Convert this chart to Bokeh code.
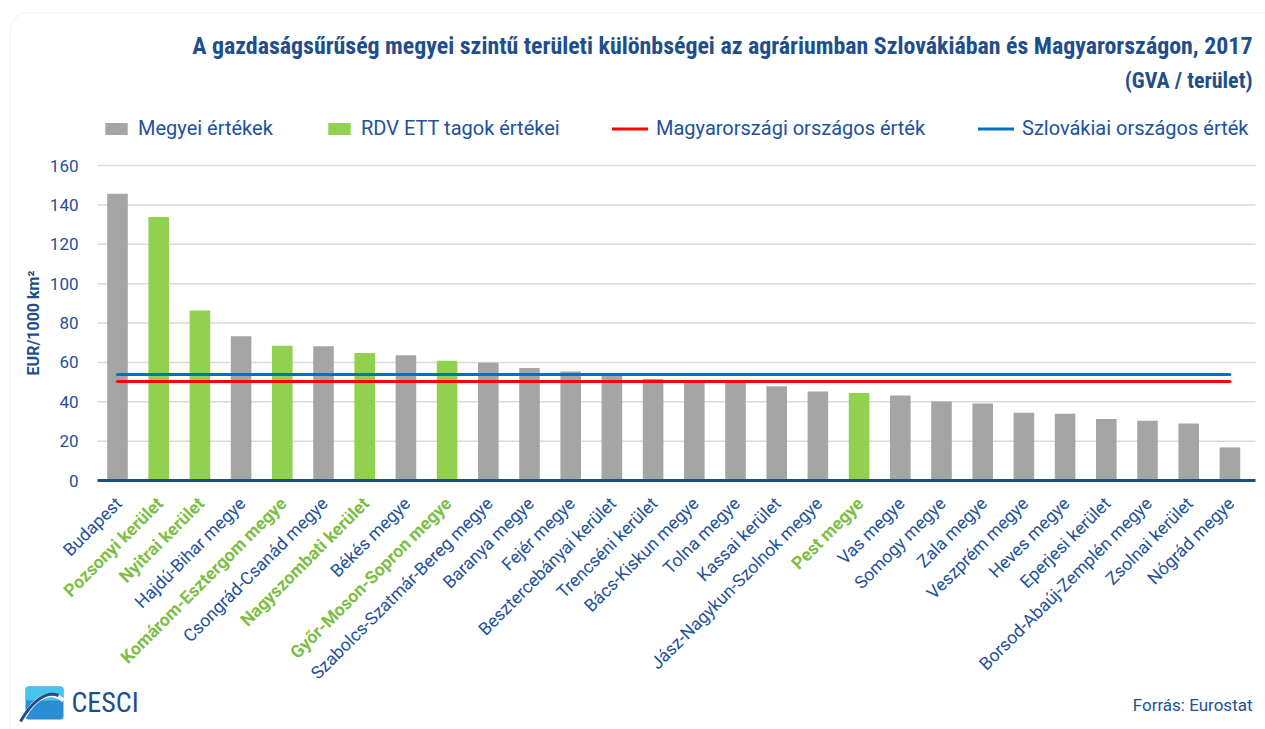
from bokeh.plotting import figure
from bokeh.models import (ColumnDataSource, Range1d, Label, LabelSet, Legend,
                          LegendItem, BoxAnnotation)
from bokeh.core.properties import value
from bokeh.embed import file_html
from bokeh.resources import INLINE
import math

# ---------------- data ----------------
categories = ["Budapest", "Pozsonyi kerület", "Nyitrai kerület", "Hajdú-Bihar megye",
              "Komárom-Esztergom megye", "Csongrád-Csanád megye", "Nagyszombati kerület",
              "Békés megye", "Győr-Moson-Sopron megye", "Szabolcs-Szatmár-Bereg megye",
              "Baranya megye", "Fejér megye", "Besztercebányai kerület", "Trencséni kerület",
              "Bács-Kiskun megye", "Tolna megye", "Kassai kerület", "Jász-Nagykun-Szolnok megye",
              "Pest megye", "Vas megye", "Somogy megye", "Zala megye", "Veszprém megye",
              "Heves megye", "Eperjesi kerület", "Borsod-Abaúj-Zemplén megye",
              "Zsolnai kerület", "Nógrád megye"]
values = [145.6, 133.8, 86.3, 73.3, 68.4, 68.2, 64.8, 63.6, 60.8, 59.8,
          57.2, 55.4, 53.5, 51.6, 50.2, 49.8, 47.9, 45.2, 44.4, 43.2,
          40.1, 39.1, 34.4, 33.9, 31.3, 30.3, 29.0, 16.8]
rdv_member = [False, True, True, False, True, False, True, False, True, False,
              False, False, False, False, False, False, False, False, True, False,
              False, False, False, False, False, False, False, False]
hu_national = 50.3
sk_national = 53.8
y_ticks = [0, 20, 40, 60, 80, 100, 120, 140, 160]

title_line1 = "A gazdaságsűrűség megyei szintű területi különbségei az agráriumban Szlovákiában és Magyarországon, 2017"
title_line2 = "(GVA / terület)"
legend_labels = ["Megyei értékek", "RDV ETT tagok értékei",
                 "Magyarországi országos érték", "Szlovákiai országos érték"]
y_label = "EUR/1000 km²"
source_text = "Forrás: Eurostat"

# ---------------- styles / layout ----------------
NAVY = "#22519A"
TITLE_NAVY = "#1F4E8C"
GREY = "#A5A5A5"
GREEN = "#92D050"
GREEN_TXT = "#7DBE45"
RED = "#FF0000"
BLUE = "#0070C0"
FONT = "Roboto"
TF = "Liberation Sans Narrow, Roboto Condensed, Arial Narrow, sans-serif"

W, H = 1265, 729
FR_L, FR_R = 97, 1255          # plot area left/right (px from left)
FR_T, FR_B = 165, 480          # plot area top (=160) / bottom (=0), px from top
X0_PX = 117                    # centre of first category
KX = 41.2                      # px per category
KY = (FR_B - FR_T) / 160.0     # px per unit

def sx2x(sx):
    return (sx - X0_PX) / KX

def sy2y(sy):
    return (FR_B - sy) / KY

xs = list(range(len(categories)))
grey_x = [x for x, m in zip(xs, rdv_member) if not m]
grey_v = [v for v, m in zip(values, rdv_member) if not m]
green_x = [x for x, m in zip(xs, rdv_member) if m]
green_v = [v for v, m in zip(values, rdv_member) if m]

p = figure(width=W, height=H, output_backend="svg", toolbar_location=None,
           x_range=Range1d(sx2x(0), sx2x(W)), y_range=Range1d(sy2y(H), sy2y(0)),
           min_border=0)
p.outline_line_color = None
p.background_fill_color = "white"
p.border_fill_color = "white"
p.xaxis.visible = False
p.yaxis.visible = False
p.grid.visible = False

# card border
p.add_layout(BoxAnnotation(left=10, right=W + 40, top=H - 12, bottom=-60,
                           left_units="screen", right_units="screen",
                           top_units="screen", bottom_units="screen",
                           fill_alpha=0, line_color="#D6D6D6", line_width=1.2,
                           border_radius=18))

# grid lines
gx0, gx1 = sx2x(FR_L), sx2x(FR_R)
grid_y = [t for t in y_ticks if t > 0]
p.segment(x0=[gx0] * len(grid_y), x1=[gx1] * len(grid_y), y0=grid_y, y1=grid_y,
          line_color="#D9D9D9", line_width=1.5)

# y tick labels + axis title
p.add_layout(LabelSet(x=FR_L - 19, x_units="screen", y="y", text="t",
                      source=ColumnDataSource(dict(y=y_ticks, t=[str(t) for t in y_ticks])),
                      text_align="right", text_baseline="middle", text_font=value(FONT),
                      text_font_size="17px", text_color=NAVY))
p.add_layout(Label(x=33, x_units="screen", y=80, text=y_label, angle=math.pi / 2,
                   text_align="center", text_baseline="middle", text_font=FONT,
                   text_font_size="16px", text_font_style="bold", text_color=TITLE_NAVY))

r_grey = p.vbar(x=grey_x, top=grey_v, width=0.5, fill_color=GREY, line_color=None)
r_green = p.vbar(x=green_x, top=green_v, width=0.5, fill_color=GREEN, line_color=None)
r_hu = p.line(x=[xs[0], xs[-1]], y=[hu_national, hu_national], line_color=RED,
              line_width=3, line_cap="round")
r_sk = p.line(x=[xs[0], xs[-1]], y=[sk_national, sk_national], line_color=BLUE,
              line_width=3, line_cap="round")

# baseline (x axis line)
p.segment(x0=[gx0], x1=[gx1], y0=[0], y1=[0], line_color="#1F4E79", line_width=3)

# category labels
lab_src = ColumnDataSource(dict(
    x=[x + 0.03 for x in xs], text=categories,
    color=[GREEN_TXT if m else NAVY for m in rdv_member],
    style=["bold" if m else "normal" for m in rdv_member]))
p.add_layout(LabelSet(x="x", y=H - FR_B - 20, y_units="screen", text="text", source=lab_src,
                      angle=math.pi / 4, text_align="right", text_baseline="middle",
                      text_color="color", text_font_style="style",
                      text_font=value(FONT), text_font_size="17.6px"))

# legends
def add_legend(label, rend, x, gw):
    lg = Legend(items=[LegendItem(label=label, renderers=[rend])],
                location=(x, H - 140), orientation="horizontal",
                padding=0, margin=0, spacing=0, border_line_alpha=0,
                background_fill_alpha=0, glyph_width=gw, glyph_height=15,
                label_standoff=8, label_text_font=FONT, label_text_font_size="20px",
                label_text_color=NAVY, label_height=24)
    p.add_layout(lg, "center")

add_legend(legend_labels[0], r_grey, 102, 28)
add_legend(legend_labels[1], r_green, 325, 28)
add_legend(legend_labels[2], r_hu, 612, 36)
add_legend(legend_labels[3], r_sk, 978, 36)

# title
p.add_layout(Label(x=1252, y=H - 45, x_units="screen", y_units="screen", text=title_line1,
                   text_align="right", text_baseline="middle", text_font=TF,
                   text_font_style="bold", text_font_size="23.9px", text_color=TITLE_NAVY))
p.add_layout(Label(x=1252, y=H - 80, x_units="screen", y_units="screen", text=title_line2,
                   text_align="right", text_baseline="middle", text_font=TF,
                   text_font_style="bold", text_font_size="22px", text_color=TITLE_NAVY))

# source
p.add_layout(Label(x=1252, y=H - 704, x_units="screen", y_units="screen", text=source_text,
                   text_align="right", text_baseline="middle", text_font=FONT,
                   text_font_size="17px", text_color=NAVY))

# logo
p.add_layout(BoxAnnotation(left=25, right=63, bottom=H - 719, top=H - 686,
                           left_units="screen", right_units="screen",
                           top_units="screen", bottom_units="screen",
                           fill_color="#2B8ED3", fill_alpha=1, line_color=None,
                           border_radius=3))
p.add_layout(BoxAnnotation(left=25, right=63, bottom=H - 700, top=H - 686,
                           left_units="screen", right_units="screen",
                           top_units="screen", bottom_units="screen",
                           fill_color="#48C3EE", fill_alpha=1, line_color=None,
                           border_radius=3))
p.bezier(x0=[sx2x(24)], y0=[sy2y(716)], x1=[sx2x(63)], y1=[sy2y(700)],
         cx0=[sx2x(36)], cy0=[sy2y(694)], cx1=[sx2x(52)], cy1=[sy2y(690)],
         line_color="white", line_width=4, level="overlay")
p.bezier(x0=[sx2x(20)], y0=[sy2y(721)], x1=[sx2x(58)], y1=[sy2y(695)],
         cx0=[sx2x(32)], cy0=[sy2y(700)], cx1=[sx2x(46)], cy1=[sy2y(690)],
         line_color="#1F4E8C", line_width=3, level="overlay")
p.add_layout(Label(x=71, y=H - 702, x_units="screen", y_units="screen", text="CESCI",
                   text_align="left", text_baseline="middle", text_font=TF,
                   text_font_size="28px", text_color=TITLE_NAVY))

open("out.html", "w").write(file_html(p, INLINE))
